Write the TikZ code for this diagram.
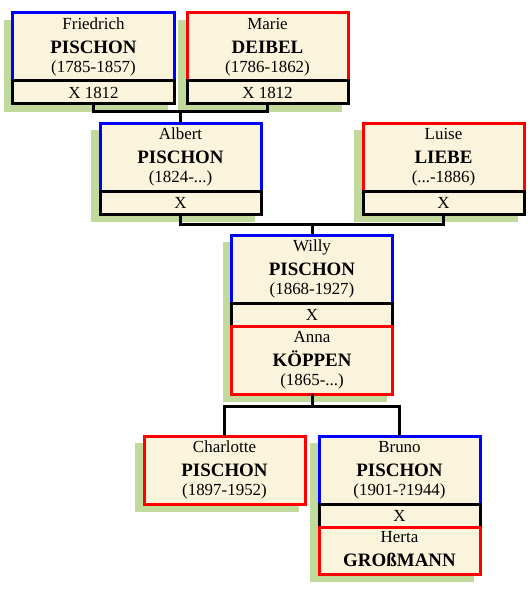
\documentclass[tikz,border=0pt]{standalone}
\usepackage{fontspec}
\setmainfont{Liberation Serif}
\usetikzlibrary{positioning,calc,backgrounds}
\definecolor{cream}{RGB}{250,244,220}
\definecolor{leaf}{RGB}{194,217,156}
\newcommand{\sname}[1]{{\bfseries\fontsize{19}{22}\selectfont #1}}

\begin{document}
\begin{tikzpicture}[
  x=1bp, y=-1bp,
  person/.style={draw, fill=cream, line width=3bp, outer sep=0pt, inner sep=0pt,
    minimum width=161bp, minimum height=68bp, align=center,
    font=\fontsize{17}{21}\selectfont},
  male/.style={person, draw=blue},
  female/.style={person, draw=red},
  wed/.style={person, draw=black, minimum height=23bp},
  link/.style={line width=3bp},
  shade/.style={fill=leaf}
]
\useasboundingbox (0,0) rectangle (530,590);

% grandparents
\node[male] (friedrich) at (93.5,47) {Friedrich\\[3bp]\sname{PISCHON}\\[-2bp](1785-1857)};
\node[wed, below=0pt of friedrich] (fwed) {X 1812};
\node[female, right=13bp of friedrich] (marie) {Marie\\[3bp]\sname{DEIBEL}\\[-2bp](1786-1862)};
\node[wed, below=0pt of marie] (mwed) {X 1812};

% parents
\node[male, below=19bp of $(fwed.south)!0.5!(mwed.south)$] (albert) {Albert\\[3bp]\sname{PISCHON}\\[-2bp](1824-...)};
\node[wed, below=0pt of albert] (awed) {X};
\node[female, right=102bp of albert] (luise) {Luise\\[3bp]\sname{LIEBE}\\[-2bp](...-1886)};
\node[wed, below=0pt of luise] (lwed) {X};

% couple
\node[male, below=21bp of $(awed.south)!0.5!(lwed.south)$] (willy) {Willy\\[3bp]\sname{PISCHON}\\[-2bp](1868-1927)};
\node[wed, below=0pt of willy] (wwed) {X};
\node[female, below=0pt of wwed] (anna) {Anna\\[3bp]\sname{KÖPPEN}\\[-2bp](1865-...)};

% children
\node[female, below left=42bp and 7bp of anna.south] (charlotte) {Charlotte\\[3bp]\sname{PISCHON}\\[-2bp](1897-1952)};
\node[male, below right=42bp and 7bp of anna.south] (bruno) {Bruno\\[3bp]\sname{PISCHON}\\[-2bp](1901-?1944)};
\node[wed, below=0pt of bruno] (bwed) {X};
\node[female, minimum height=47bp, below=0pt of bwed] (herta) {Herta\\[3bp]\sname{GROßMANN}\vphantom{p}};

\begin{scope}[on background layer]
  \fill[shade] ($(friedrich.north west)+(-9,7)$) rectangle ($(fwed.south east)+(-6,8)$);
  \fill[shade] ($(marie.north west)+(-9,7)$) rectangle ($(mwed.south east)+(-6,8)$);
  \fill[shade] ($(albert.north west)+(-9,7)$) rectangle ($(awed.south east)+(-6,8)$);
  \fill[shade] ($(luise.north west)+(-9,7)$) rectangle ($(lwed.south east)+(-6,8)$);
  \fill[shade] ($(willy.north west)+(-9,7)$) rectangle ($(anna.south east)+(-6,8)$);
  \fill[shade] ($(charlotte.north west)+(-9,7)$) rectangle ($(charlotte.south east)+(-6,8)$);
  \fill[shade] ($(bruno.north west)+(-9,7)$) rectangle ($(herta.south east)+(-6,8)$);
\end{scope}

\draw[link] (fwed.south) -- ++(0,8) -| (mwed.south);
\draw[link] ($(fwed.south)!0.5!(mwed.south)+(0,8)$) -- (albert.north);
\draw[link] (awed.south) -- ++(0,10) -| (lwed.south);
\draw[link] ($(awed.south)!0.5!(lwed.south)+(0,10)$) -- (willy.north);
\draw[link] (anna.south) -- ++(0,12) coordinate (kids);
\draw[link] (charlotte.north) |- (kids) -| (bruno.north);
\end{tikzpicture}
\end{document}
